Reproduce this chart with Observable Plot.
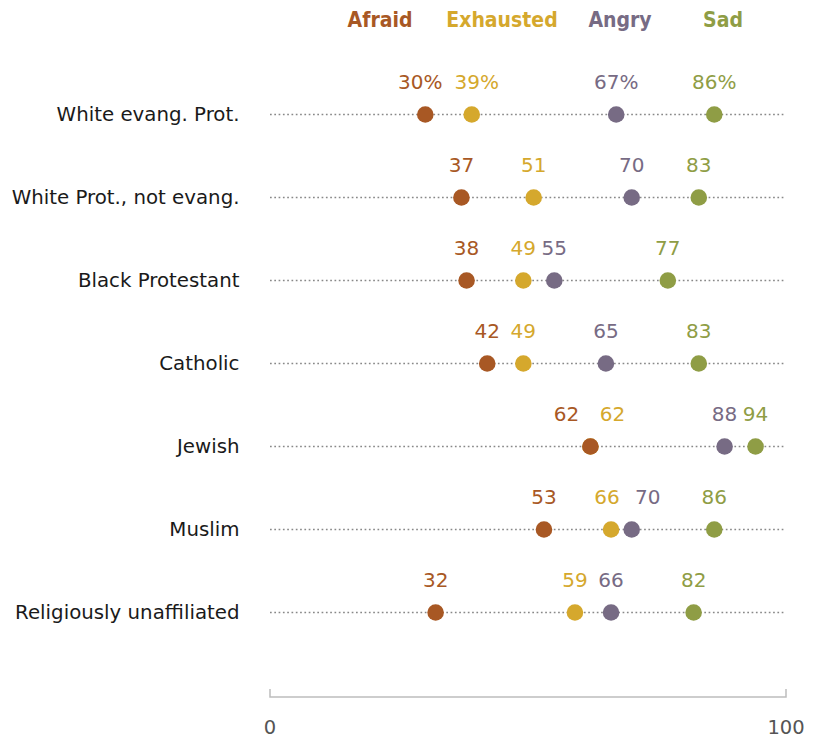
<!DOCTYPE html>
<html>
<head>
<meta charset="utf-8">
<script src="https://cdn.jsdelivr.net/npm/d3@7"></script>
<script src="https://cdn.jsdelivr.net/npm/@observablehq/plot@0.6"></script>
<style>
  body { margin: 0; background: #fff; }
  #wrap { position: relative; width: 815px; height: 739px; }
  #legend span { position: absolute; top: 8px; transform: translateX(-50%); font-family: "Liberation Sans Narrow", "DejaVu Sans Condensed", sans-serif; font-weight: bold; font-size: 21px; white-space: nowrap; }
  #chart { position: absolute; left: 0; top: 0; }
</style>
</head>
<body>
<div id="wrap">
  <div id="chart"></div>
  <div id="legend"></div>
</div>
<script>
const categories = ["White evang. Prot.", "White Prot., not evang.", "Black Protestant", "Catholic", "Jewish", "Muslim", "Religiously unaffiliated"];
const seriesNames = ["Afraid", "Exhausted", "Angry", "Sad"];
const afraid = [30, 37, 38, 42, 62, 53, 32];
const exhausted = [39, 51, 49, 49, 62, 66, 59];
const angry = [67, 70, 55, 65, 88, 70, 66];
const sad = [86, 83, 77, 83, 94, 86, 82];
const xTicks = [0, 100];

const colors = {Afraid: "#a85824", Exhausted: "#d5a82d", Angry: "#776b84", Sad: "#8f9d45"};
const seriesValues = {Afraid: afraid, Exhausted: exhausted, Angry: angry, Sad: sad};

// label nudges to avoid overlaps (pixel offsets)
const nudge = {
  "White evang. Prot.|Afraid": -5, "White evang. Prot.|Exhausted": 5,
  "Jewish|Afraid": -24, "Jewish|Exhausted": 22,
  "Muslim|Exhausted": -4, "Muslim|Angry": 16
};

const data = [];
seriesNames.forEach(s => {
  categories.forEach((c, i) => {
    data.push({category: c, series: s, value: seriesValues[s][i], first: i === 0});
  });
});
// draw order for dots: Afraid on top
const drawOrder = ["Exhausted", "Angry", "Sad", "Afraid"];
const dotData = drawOrder.flatMap(s => data.filter(d => d.series === s));

const keyOf = d => d.category + "|" + d.series;
const font = "'DejaVu Sans', sans-serif";

const textOpts = {
  x: "value", y: "category",
  text: d => d.first ? d.value + "%" : String(d.value),
  fill: "series",
  dy: -32,
  fontSize: 20
};
const labelMarks = [Plot.text(data.filter(d => !(keyOf(d) in nudge)), textOpts)];
Object.entries(nudge).forEach(([k, off]) => {
  labelMarks.push(Plot.text(data.filter(d => keyOf(d) === k), {...textOpts, dx: off}));
});

const chart = Plot.plot({
  width: 815,
  height: 739,
  marginLeft: 270,
  marginRight: 29,
  marginTop: 112,
  marginBottom: 125,
  style: {fontFamily: font, background: "#fff"},
  x: {domain: [0, 100]},
  y: {type: "point", domain: categories, padding: 0},
  color: {domain: seriesNames, range: seriesNames.map(s => colors[s])},
  marks: [
    Plot.ruleY(categories, {y: d => d, x1: 0, x2: 100, stroke: "#888", strokeWidth: 1.7, strokeDasharray: "1.7,2.6"}),
    Plot.dot(dotData, {x: "value", y: "category", fill: "series", r: 8.3, stroke: "none"}),
    ...labelMarks,
    Plot.axisY({tickSize: 0, tickPadding: 31, fontSize: 19.8, color: "#1a1a1a", label: null}),
    Plot.axisX({ticks: xTicks, tickSize: 0, tickPadding: 0, fontSize: 19.5, color: "#555", label: null})
  ]
});
document.getElementById("chart").appendChild(chart);

// Bottom axis line with upward end ticks
const svg = d3.select(chart);
const xs = chart.scale("x");
const axisY = 697;
const ax = svg.append("g").attr("stroke", "#bdbdbd").attr("stroke-width", 1.5).attr("fill", "none");
ax.append("path").attr("d", `M${xs.apply(0)},${axisY - 8}V${axisY}H${xs.apply(100)}V${axisY - 8}`);
svg.select("g[aria-label='x-axis tick label']").attr("transform", `translate(0, ${axisY + 23 - (739 - 125)})`);

const legend = document.getElementById("legend");
const legendPos = {Afraid: 380, Exhausted: 502, Angry: 620, Sad: 723};
seriesNames.forEach(s => {
  const sp = document.createElement("span");
  sp.textContent = s;
  sp.style.left = legendPos[s] + "px";
  sp.style.color = colors[s];
  legend.appendChild(sp);
});
</script>
</body>
</html>
